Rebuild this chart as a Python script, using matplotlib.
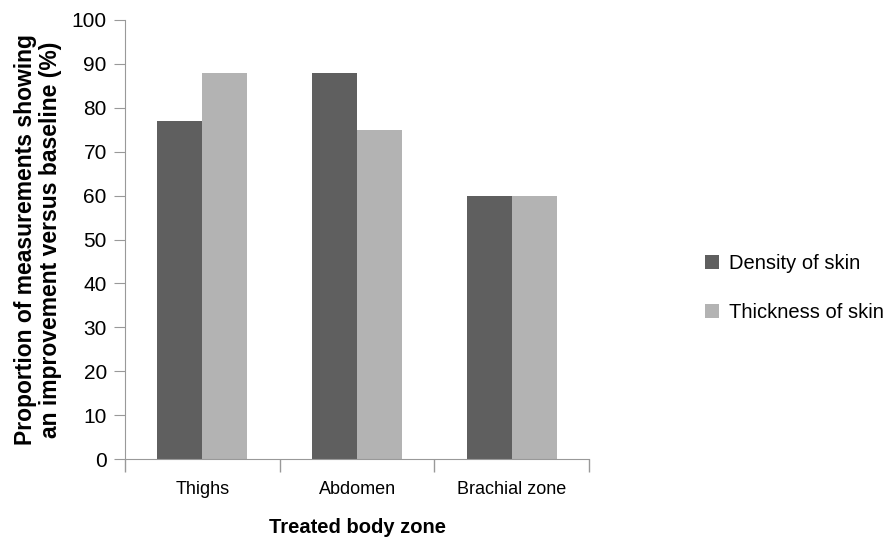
import matplotlib.pyplot as plt
import numpy as np

plt.rcParams['font.family'] = ['Liberation Sans', 'DejaVu Sans']

# Données
zones = ['Thighs', 'Abdomen', 'Brachial zone']
density = [77, 88, 60]
thickness = [88, 75, 60]
series = ['Density of skin', 'Thickness of skin']
colors = ['#5f5f5f', '#b3b3b3']

fig = plt.figure(figsize=(8.86, 5.37), dpi=100)
ax = fig.add_axes([0.141, 0.145, 0.524, 0.818])

x = np.arange(len(zones))
w = 0.29
ax.bar(x - w / 2, density, w, color=colors[0], label=series[0])
ax.bar(x + w / 2, thickness, w, color=colors[1], label=series[1])

ax.set_xlim(-0.5, len(zones) - 0.5)
ax.set_ylim(0, 100)
ax.set_yticks(range(0, 101, 10))
ax.set_xticks(x)
ax.set_xticklabels(zones)
ax.tick_params(axis='x', length=0, pad=16, labelsize=13)
ax.set_xticks(np.arange(len(zones) + 1) - 0.5, minor=True)
ax.tick_params(axis='x', which='minor', length=9, color='#999999', width=1)
ax.tick_params(axis='y', length=8, color='#999999', labelsize=15, pad=5)

for s in ['top', 'right']:
    ax.spines[s].set_visible(False)
for s in ['left', 'bottom']:
    ax.spines[s].set_color('#999999')

ax.set_xlabel('Treated body zone', fontsize=14.5, fontweight='bold', labelpad=14)
ax.set_ylabel('Proportion of measurements showing\nan improvement versus baseline (%)',
              fontsize=16.5, fontweight='bold', labelpad=7, linespacing=1.12)

ax.legend(loc='center left', bbox_to_anchor=(1.21, 0.39), frameon=False,
          fontsize=14.5, handlelength=0.7, handleheight=0.7, labelspacing=1.5,
          handletextpad=0.5)

plt.savefig('out.png', dpi=100)
